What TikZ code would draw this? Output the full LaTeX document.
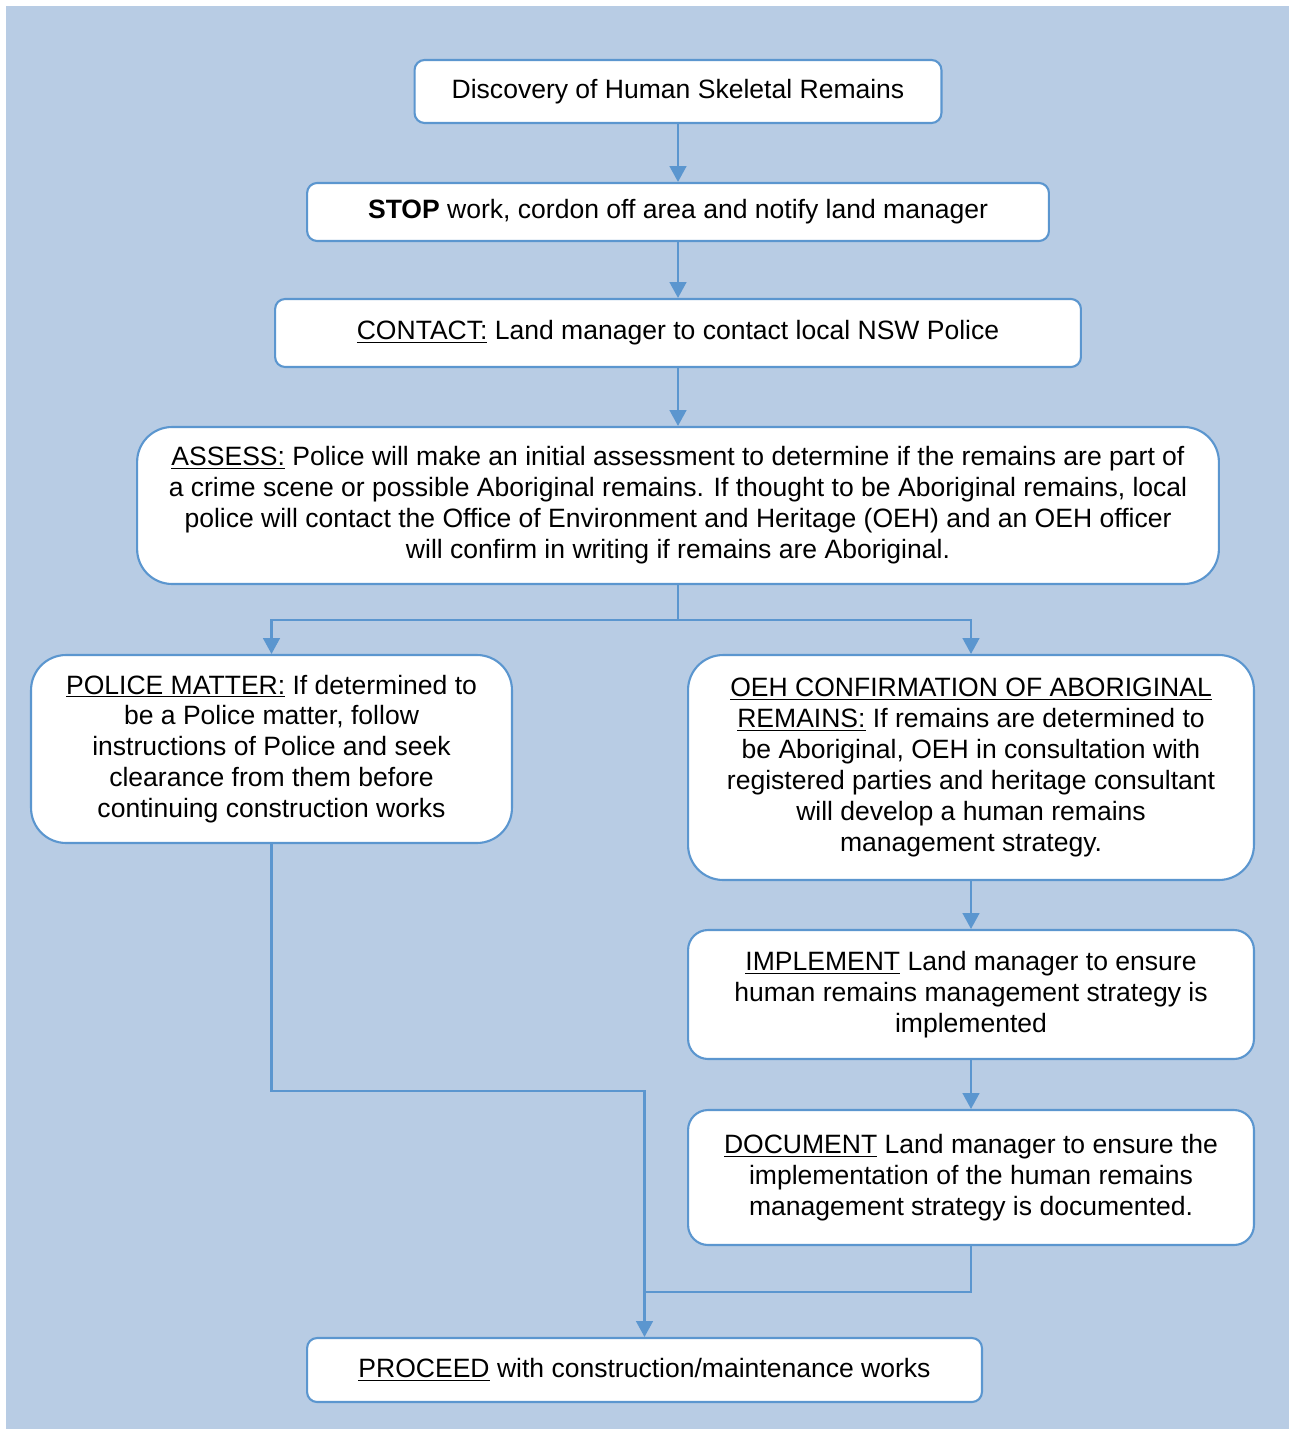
\documentclass[tikz,border=0pt]{standalone}
\usepackage{fontspec}
\setmainfont{Liberation Sans}
\usepackage{xcolor}
\usepackage{tikz}
\usetikzlibrary{positioning,shapes,arrows.meta}

\definecolor{bgblue}{HTML}{B8CCE4}
\definecolor{lineblue}{HTML}{5B96CF}
\newcommand{\boxfont}{\fontsize{15.1pt}{17.6pt}\selectfont}

\begin{document}
\begin{tikzpicture}[x=0.02cm, y=-0.02cm,
    box/.style={rectangle, rounded corners=0.2cm, draw=lineblue, fill=white, line width=1.2pt, align=center, inner sep=2pt, font=\boxfont},
    bigbox/.style={box, rounded corners=0.7cm},
    midbox/.style={box, rounded corners=0.4cm},
    arrow/.style={-{Triangle[width=9.5pt,length=9pt]}, draw=lineblue, line width=1.2pt}
]

% Background
\useasboundingbox (0,0) rectangle (1289,1429);
\fill[bgblue] (6,6) rectangle (1289,1429);

% Main steps
\node[box, minimum width=10.54cm, minimum height=1.26cm] (disc) at (678,91.5) {Discovery of Human Skeletal Remains};
\node[box, minimum width=14.84cm, minimum height=1.16cm] (stop) at (678,212) {\textbf{STOP} work, cordon off area and notify land manager};
\node[box, minimum width=16.12cm, minimum height=1.36cm] (contact) at (678,333) {\underline{CONTACT:} Land manager to contact local NSW Police};
\node[bigbox, minimum width=21.64cm, minimum height=3.14cm] (assess) at (678,505.5) {
    \underline{ASSESS:} Police will make an initial assessment to determine if the remains are part of \\
    a crime scene or possible Aboriginal remains. If thought to be Aboriginal remains, local \\
    police will contact the Office of Environment and Heritage (OEH) and an OEH officer \\
    will confirm in writing if remains are Aboriginal.
};

% Branches
\node[bigbox, minimum width=9.62cm, minimum height=3.76cm] (police) at (271.5,749) {
    \underline{POLICE MATTER:} If determined to \\
    be a Police matter, follow \\
    instructions of Police and seek \\
    clearance from them before \\
    continuing construction works
};
\node[bigbox, minimum width=11.32cm, minimum height=4.5cm] (oeh) at (971,767.5) {
    \underline{OEH CONFIRMATION OF ABORIGINAL} \\
    \underline{REMAINS:} If remains are determined to \\
    be Aboriginal, OEH in consultation with \\
    registered parties and heritage consultant \\
    will develop a human remains \\
    management strategy.
};
\node[midbox, minimum width=11.32cm, minimum height=2.58cm] (impl) at (971,994.5) {
    \underline{IMPLEMENT} Land manager to ensure \\
    human remains management strategy is \\
    implemented
};
\node[midbox, minimum width=11.32cm, minimum height=2.7cm] (doc) at (971,1177.5) {
    \underline{DOCUMENT} Land manager to ensure the \\
    implementation of the human remains \\
    management strategy is documented.
};

% Final step
\node[box, minimum width=13.5cm, minimum height=1.28cm] (proceed) at (644.5,1370) {\underline{PROCEED} with construction/maintenance works};

% Connectors
\coordinate (split) at (678,620);
\coordinate (join) at (644.5,1091);
\coordinate (merge) at (644.5,1292);

\draw[arrow] (disc) -- (stop);
\draw[arrow] (stop) -- (contact);
\draw[arrow] (contact) -- (assess);
\draw[arrow] (assess.south) -- (split) -| (police.north);
\draw[arrow] (split) -| (oeh.north);
\draw[arrow] (oeh) -- (impl);
\draw[arrow] (impl) -- (doc);
\draw[arrow] (police.south) |- (join) -- (proceed.north);
\draw[draw=lineblue, line width=1.2pt] (doc.south) |- (merge);

\end{tikzpicture}
\end{document}
